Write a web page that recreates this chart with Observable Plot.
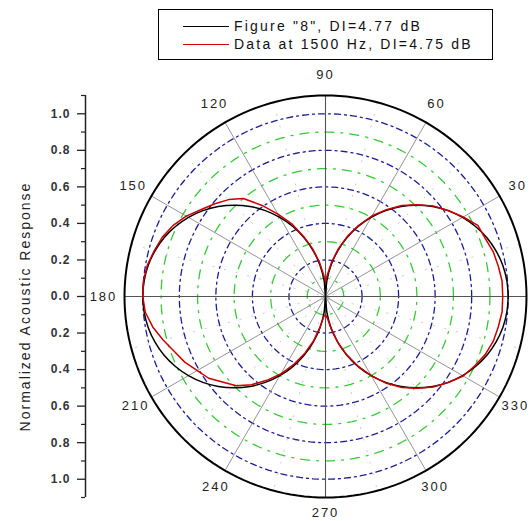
<!DOCTYPE html>
<html>
<head>
<meta charset="utf-8">
<script src="https://cdn.jsdelivr.net/npm/d3@7"></script>
<script src="https://cdn.jsdelivr.net/npm/@observablehq/plot@0.6"></script>
<style>
  html, body { margin: 0; padding: 0; background: #fff; }
  #wrap { width: 531px; font-family: "Liberation Sans", Arial, sans-serif; }
  #legend { position: relative; width: 531px; height: 62px; }
  #legend .box { position: absolute; left: 158px; top: 9px; width: 333px; height: 49px; border: 1.5px solid #000; }
  #legend .row { position: absolute; left: 24px; height: 18px; display: flex; align-items: center; font-size: 14px; color: #111; letter-spacing: 2.2px; white-space: nowrap; }
  #legend .sw { width: 46px; height: 0; border-top: 1.5px solid; margin-right: 5px; }
  #chart svg text { letter-spacing: 2px; }
  #chart svg g[aria-label="y-axis tick label"] text { letter-spacing: 1px; }
</style>
</head>
<body>
<div id="wrap">
  <div id="legend"><div class="box" id="lbox"></div></div>
  <div id="chart"></div>
</div>
<script>
// ---- data ----
const angles = d3.range(0, 361, 5);
const figure8 = [1.000,0.996,0.985,0.966,0.940,0.906,0.866,0.819,0.766,0.707,0.643,0.574,0.500,0.423,0.342,0.259,0.174,0.087,0.000,
  0.087,0.174,0.259,0.342,0.423,0.500,0.574,0.643,0.707,0.766,0.819,0.866,0.906,0.940,0.966,0.985,0.996,1.000,
  0.996,0.985,0.966,0.940,0.906,0.866,0.819,0.766,0.707,0.643,0.574,0.500,0.423,0.342,0.259,0.174,0.087,0.000,
  0.087,0.174,0.259,0.342,0.423,0.500,0.574,0.643,0.707,0.766,0.819,0.866,0.906,0.940,0.966,0.985,0.996,1.000];
const measured = [0.97,0.97,0.96,0.95,0.93,0.92,0.87,0.82,0.77,0.71,0.65,0.58,0.51,0.43,0.35,0.27,0.19,0.12,0.08,
  0.12,0.19,0.27,0.35,0.44,0.52,0.61,0.70,0.75,0.79,0.83,0.88,0.92,0.95,0.97,0.99,1.00,1.00,
  0.99,0.96,0.92,0.88,0.85,0.81,0.78,0.73,0.69,0.63,0.56,0.49,0.41,0.33,0.25,0.17,0.11,0.10,
  0.12,0.18,0.26,0.34,0.42,0.50,0.58,0.65,0.71,0.77,0.82,0.87,0.90,0.93,0.95,0.96,0.97,0.97];
const seriesNames = ['Figure "8", DI=4.77 dB', 'Data at 1500 Hz, DI=4.75 dB'];
const seriesColors = ["#000000", "#cc0000"];
const angleLabels = [30, 60, 90, 120, 150, 180, 210, 240, 270, 300, 330];
const majorRings = [0.2, 0.4, 0.6, 0.8, 1.0];
const minorRings = [0.1, 0.3, 0.5, 0.7, 0.9];
const spokeAngles = [0, 30, 60, 90, 120, 150];
const minorSpokeAngles = [15, 45, 75, 105, 135, 165];
const yMajorTicks = [-1.0, -0.8, -0.6, -0.4, -0.2, 0.0, 0.2, 0.4, 0.6, 0.8, 1.0];
const yMinorTicks = [-1.1, -0.9, -0.7, -0.5, -0.3, -0.1, 0.1, 0.3, 0.5, 0.7, 0.9, 1.1];
const yTitle = "Normalized Acoustic Response";
const rMax = 1.1;

// ---- helpers ----
const rad = d => d * Math.PI / 180;
const toPts = (vals) => angles.map((a, i) => ({a, r: vals[i]}));
const ring = r => d3.range(0, 361, 2).map(a => ({a, r}));
const px = d => d.r * Math.cos(rad(d.a));
const py = d => d.r * Math.sin(rad(d.a));
const labelR = a => (a === 270 ? 1.185 : a > 180 ? 1.2 : 1.215);

// layout
const W = 531, H = 459, mt = 33, mb = 24, ml = 85, mr = 5;
const k = (H - mt - mb) / (2 * rMax);       // px per unit
const xMin = rMax - (W - ml - mr) / k;

const ringsMajor = majorRings.flatMap((r, i) => ring(r).map(p => ({...p, id: i})));
const ringsMinor = minorRings.flatMap((r, i) => ring(r).map(p => ({...p, id: i})));
const outer = ring(rMax);

const spokeLine = (a, r) => ({x1: r * Math.cos(rad(a)), y1: r * Math.sin(rad(a)), x2: -r * Math.cos(rad(a)), y2: -r * Math.sin(rad(a))});

const plot = Plot.plot({
  width: W, height: H,
  marginTop: mt, marginBottom: mb, marginLeft: ml, marginRight: mr,
  x: {domain: [xMin, rMax], axis: null},
  y: {domain: [-rMax, rMax], axis: null},
  style: {fontFamily: "Liberation Sans, Arial, sans-serif", fontSize: "11px", background: "white", overflow: "visible"},
  marks: [
    // minor spokes (faint)
    Plot.link(minorSpokeAngles.map(a => spokeLine(a, rMax)), {x1: "x1", y1: "y1", x2: "x2", y2: "y2", stroke: "#bbbbbb", strokeWidth: 0.8, strokeDasharray: "2,10"}),
    // grid rings
    Plot.line(ringsMinor, {x: px, y: py, z: "id", stroke: "#33cc33", strokeWidth: 1.3, strokeDasharray: "9,7,2,7"}),
    Plot.line(ringsMajor, {x: px, y: py, z: "id", stroke: "#1c1c99", strokeWidth: 1.3, strokeDasharray: "6,4,2,4"}),
    // spokes
    Plot.link(spokeAngles.filter(a => a % 90 !== 0).map(a => spokeLine(a, rMax)), {x1: "x1", y1: "y1", x2: "x2", y2: "y2", stroke: "#888888", strokeWidth: 0.9}),
    Plot.link(spokeAngles.filter(a => a % 90 === 0).map(a => spokeLine(a, rMax)), {x1: "x1", y1: "y1", x2: "x2", y2: "y2", stroke: "#555555", strokeWidth: 1.1}),
    // outer circle
    Plot.line(outer, {x: px, y: py, stroke: "#000", strokeWidth: 2}),
    // data
    Plot.line(toPts(figure8), {x: px, y: py, stroke: seriesColors[0], strokeWidth: 1.5, curve: "catmull-rom"}),
    Plot.line(toPts(measured), {x: px, y: py, stroke: seriesColors[1], strokeWidth: 1.5}),
    // angle labels
    Plot.text(angleLabels, {x: a => labelR(a) * Math.cos(rad(a)), y: a => labelR(a) * Math.sin(rad(a)), text: a => String(a), fontSize: 13, fill: "#222"}),
    // left axis
    Plot.ruleX([xMin], {y1: -rMax, y2: rMax, stroke: "#222", strokeWidth: 1.5}),
    Plot.axisY({ticks: yMajorTicks, tickFormat: d => Math.abs(d).toFixed(1), tickSize: 8, tickPadding: 7, anchor: "left", label: null, fontSize: 12, fontWeight: "bold", fill: "#333", stroke: "#222", strokeWidth: 1.3}),
    Plot.axisY({ticks: yMinorTicks, tickFormat: () => "", tickSize: 4, anchor: "left", label: null, stroke: "#222", strokeWidth: 1.2}),
    Plot.text([yTitle], {frameAnchor: "left", textAnchor: "middle", dx: -60, dy: 10, rotate: -90, fontSize: 14, fill: "#222"})
  ]
});
document.getElementById("chart").appendChild(plot);

// legend
const lbox = document.getElementById("lbox");
seriesNames.forEach((name, i) => {
  const row = document.createElement("div");
  row.className = "row";
  row.style.top = (7 + i * 18) + "px";
  const sw = document.createElement("div");
  sw.className = "sw";
  sw.style.borderColor = seriesColors[i];
  const t = document.createElement("span");
  t.textContent = name;
  row.appendChild(sw); row.appendChild(t);
  lbox.appendChild(row);
});
</script>
</body>
</html>
